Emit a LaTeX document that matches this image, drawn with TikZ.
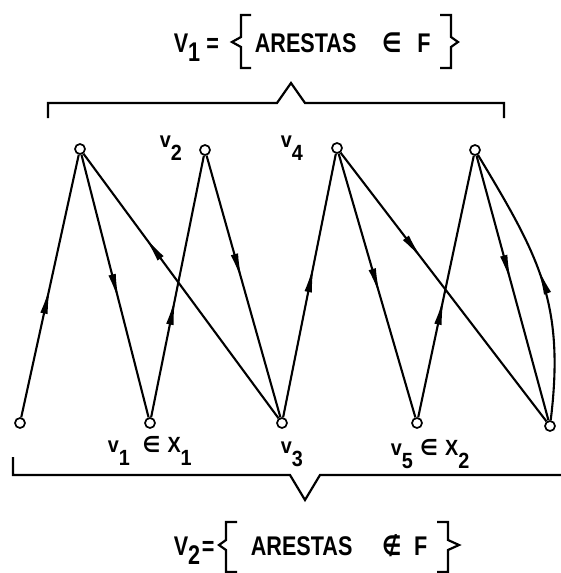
\documentclass[tikz,border=0pt]{standalone}
\usepackage{fontspec}
\setmainfont{Liberation Sans}
\newfontfamily\relsym{DejaVu Sans}
\usetikzlibrary{arrows.meta, decorations.markings}
\newcommand{\vsub}[2][0.6em]{\raisebox{-#1}{#2}}

\begin{document}
\begin{tikzpicture}[x=1pt, y=1pt, line width=2.1pt,
    vtx/.style={circle, draw, fill=white, line width=1.7pt, minimum size=10pt, inner sep=0pt},
    lbl/.style={font=\fontsize{22}{26}\selectfont\bfseries, anchor=base west, inner sep=0pt, xscale=0.9},
    ttl/.style={font=\fontsize{27}{32}\selectfont\bfseries, anchor=base west, inner sep=0pt, xscale=0.8},
    midarrow/.style={postaction={decorate}, decoration={markings, mark=at position #1 with {\arrow{Latex[length=28pt, width=7.5pt]}}}}]
    \useasboundingbox (0,0) rectangle (561,-573);
    % set V1 above
    \node[ttl] (lhs1) at (173,-52) {V\vsub[0.37em]{1} =};
    \node[ttl] (set1) at (254,-52) {ARESTAS\hspace{32pt}{\relsym ∈}\hspace{20pt}F};
    \draw[line width=2.2pt] (251,-15) -- (241,-15) -- (241,-37) -- (232,-42) -- (241,-47) -- (241,-68) -- (251,-68);
    \draw[line width=2.2pt] (440,-15) -- (451,-15) -- (451,-37) -- (458,-42) -- (451,-47) -- (451,-68) -- (440,-68);
    \draw[line width=2.2pt] (48,-118) -- (48,-103) -- (277,-103) -- (291,-83) -- (305,-103) -- (504,-103) -- (504,-118);
    % set V2 below
    \node[ttl] (lhs2) at (173,-555) {V\vsub[0.37em]{2}\hspace{2pt}=};
    \node[ttl] (set2) at (250,-555) {ARESTAS\hspace{37pt}{\relsym ∉}\hspace{16pt}F};
    \draw[line width=2.2pt] (237,-522) -- (226,-522) -- (226,-540) -- (219,-545) -- (226,-550) -- (226,-572) -- (237,-572);
    \draw[line width=2.2pt] (437,-522) -- (448,-522) -- (448,-540) -- (459,-545) -- (448,-550) -- (448,-572) -- (437,-572);
    \draw[line width=2.2pt] (13,-457) -- (13,-475) -- (290,-475) -- (305,-500) -- (320,-475) -- (561,-475);
    % vertices
    \node[vtx] (t1) at (80,-149) {};
    \node[vtx] (t2) at (205,-150) {};
    \node[vtx] (t3) at (337,-148) {};
    \node[vtx] (t4) at (475,-150) {};
    \node[vtx] (b1) at (20,-423) {};
    \node[vtx] (b2) at (150,-423) {};
    \node[vtx] (b3) at (282,-423) {};
    \node[vtx] (b4) at (417,-423) {};
    \node[vtx] (b5) at (550,-426) {};
    % vertex labels
    \node[lbl] (lv2) at (159,-147) {v\vsub{2}};
    \node[lbl] (lv4) at (280,-147) {v\vsub{4}};
    \node[lbl] (lx1) at (107,-452) {v\vsub{1}\hspace{14pt}{\relsym ∈}\hspace{8pt}X\vsub{1}};
    \node[lbl] (lv3) at (280,-453) {v\vsub{3}};
    \node[lbl] (lx2) at (390,-455) {v\vsub{5}\hspace{8pt}{\relsym ∈}\hspace{8pt}X\vsub{2}};
    % arcs
    \foreach \a/\b/\p in {b1/t1/0.5, t1/b2/0.56, b3/t1/0.69, b2/t2/0.46, t2/b3/0.48,
        b3/t3/0.58, t3/b4/0.54, t3/b5/0.4, b4/t4/0.46, t4/b5/0.48}
        \draw[midarrow=\p] (\a) -- (\b);
    \draw[midarrow=0.55] (b5) to[out=83, in=-59, looseness=1.1] (t4);
\end{tikzpicture}
\end{document}
